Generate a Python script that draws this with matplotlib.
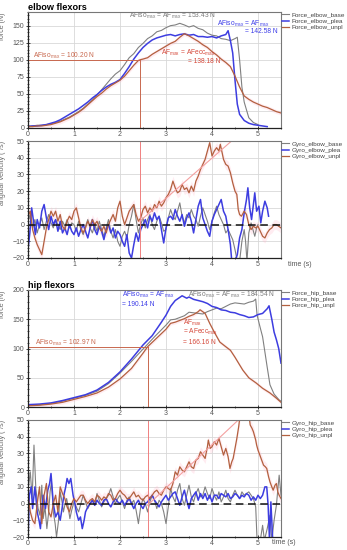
import matplotlib
matplotlib.use("Agg")
import matplotlib.pyplot as plt
from matplotlib.ticker import MultipleLocator
import numpy as np

plt.rcParams['font.family'] = ['Liberation Sans', 'DejaVu Sans']
plt.rcParams['mathtext.fontset'] = 'custom'
plt.rcParams['mathtext.rm'] = 'Liberation Sans'

# ---------------- data ----------------
# elbow force (N)
t_elb_base = [0,0.1,0.2,0.3,0.4,0.5,0.6,0.7,0.8,0.9,1.0,1.1,1.2,1.3,1.4,1.5,1.6,1.7,1.8,1.9,2.0,2.1,2.2,2.3,2.4,2.5,2.6,2.7,2.8,2.9,3.0,3.1,3.2,3.3,3.4,3.5,3.6,3.7,3.8,3.9,4.0,4.1,4.2,4.3,4.4,4.5,4.55,4.6,4.65,4.7,4.8,4.9,5.0]
f_elb_base = [3,3,4,4,5,6,8,10,13,16,20,24,29,35,41,48,56,64,72,79,84,93,103,109,118,124,131,135,141,143,147,150,151,153.4,151,148,150,146,144,139,136,135,131,130,128,131,133,100,60,38,15,8,5]
t_elb_plea = [0,0.1,0.2,0.3,0.4,0.5,0.6,0.7,0.8,0.9,1.0,1.1,1.2,1.3,1.4,1.5,1.6,1.7,1.8,1.9,2.0,2.1,2.2,2.3,2.4,2.5,2.6,2.7,2.8,2.9,3.0,3.1,3.2,3.3,3.4,3.5,3.6,3.7,3.8,3.9,4.0,4.1,4.2,4.3,4.35,4.4,4.45,4.5,4.55,4.6,4.7,4.8,4.9,5.0,5.1,5.2]
f_elb_plea = [2,3,3,4,5,7,9,12,16,20,24,28,33,38,44,49,55,60,64,67,71,80,90,101,110,118,124,129,132,134,136,137,135,137,138,136,137,134,134,133,134,132,135,137,142.6,128,110,70,35,20,11,7,5,4,3,2]
t_elb_unpl = [0,0.1,0.2,0.3,0.4,0.5,0.6,0.7,0.8,0.9,1.0,1.1,1.2,1.3,1.4,1.5,1.6,1.7,1.8,1.9,2.0,2.1,2.2,2.3,2.4,2.45,2.5,2.6,2.7,2.8,2.9,3.0,3.1,3.2,3.3,3.4,3.5,3.6,3.7,3.8,3.9,4.0,4.1,4.2,4.3,4.4,4.5,4.6,4.7,4.8,4.9,5.0,5.1,5.2,5.3,5.4,5.5]
f_elb_unpl = [2,2,3,3,4,5,7,9,12,15,19,23,28,34,40,46,51,57,62,66,70,76,84,92,99,100.2,101,103,108,112,116,120,124,127,133,138.2,135,131,127,122,118,112,107,101,96,90,76,60,47,42,38,35,32,30,27,24,22]

# hip force (N)
t_hip_base = [0,0.25,0.5,0.75,1.0,1.25,1.5,1.75,2.0,2.25,2.5,2.75,3.0,3.1,3.2,3.3,3.4,3.5,3.6,3.7,3.8,3.9,4.0,4.1,4.2,4.3,4.4,4.5,4.6,4.7,4.8,4.9,4.95,4.98,5.05,5.1,5.2,5.26,5.35,5.46,5.5]
f_hip_base = [3,4,6,10,15,20,27,40,58,78,99,120,140,149,150,153,156,162,161,160,159,163,166,169,168,172,176,178,177,176,179,181,184.5,157,135,120,68,38,22,12,10]
t_hip_plea = [0,0.25,0.5,0.75,1.0,1.25,1.5,1.75,2.0,2.25,2.5,2.7,2.9,3.0,3.1,3.2,3.35,3.45,3.5,3.6,3.7,3.8,3.9,4.0,4.1,4.2,4.3,4.4,4.5,4.6,4.7,4.8,4.9,5.0,5.1,5.2,5.24,5.3,5.35,5.4,5.45,5.5]
f_hip_plea = [4,5,7,11,16,21,29,42,60,82,106,122,145,157,172,182,190.1,186,188,184,182,180,177,172,170,166,165,162,161,158,156,153,154,158,160,168,173,150,128,115,100,75]
t_hip_unpl = [0,0.25,0.5,0.75,1.0,1.25,1.5,1.75,2.0,2.25,2.5,2.6,2.8,3.0,3.1,3.2,3.3,3.4,3.5,3.6,3.7,3.74,3.85,3.95,4.05,4.17,4.3,4.4,4.5,4.6,4.67,4.8,4.96,5.1,5.26,5.4,5.5]
f_hip_unpl = [2,3,5,8,13,18,24,34,48,66,92,103,118,133,143,145,148,151,155,158,163,166.2,160,143,128,111,103,97,85,72,63,50,41,32,24,15,8]

# elbow gyro (deg/s)
t_eg_base = [0,0.05,0.1,0.15,0.2,0.25,0.3,0.35,0.4,0.45,0.5,0.55,0.6,0.65,0.7,0.75,0.8,0.85,0.9,0.95,1.0,1.05,1.1,1.15,1.2,1.25,1.3,1.35,1.4,1.45,1.5,1.55,1.6,1.65,1.7,1.75,1.8,1.85,1.9,1.95,2.0,2.05,2.1,2.15,2.2,2.25,2.3,2.35,2.4,2.45,2.5,2.55,2.6,2.65,2.7,2.75,2.8,2.85,2.9,2.95,3.0,3.05,3.1,3.15,3.2,3.25,3.3,3.35,3.4,3.45,3.5,3.55,3.6,3.65,3.7,3.75,3.8,3.85,3.9,3.95,4.0,4.05,4.1,4.15,4.2,4.25,4.3,4.35,4.4,4.45,4.5,4.55,4.6,4.65,4.7,4.73,4.76,4.8,4.85,4.9,4.93,4.97,5.0]
v_eg_base = [2,6,-2,3,-5,0,4,-3,2,6,1,-2,3,0,-3,2,-1,3,-2,1,0,-4,2,-3,-6,-1,3,-2,-5,0,-4,2,-3,-7,-2,3,-4,-8,-3,-10,-13,-7,-4,-8,0,5,12,3,-5,0,4,-2,3,6,0,-3,2,5,1,-4,-3,4,9,5,3,8,13,5,1,6,4,9,5,3,-1,5,10,6,2,-3,2,7,11,6,3,0,-5,-3,-6,-9,-15,-22,-22,-10,-3,-10,-22,-5,1,-4,-7,-2,0]
t_eg_plea = [0,0.04,0.08,0.12,0.16,0.2,0.25,0.3,0.35,0.4,0.45,0.5,0.55,0.6,0.65,0.7,0.75,0.8,0.85,0.9,0.95,1.0,1.05,1.1,1.15,1.2,1.25,1.3,1.35,1.4,1.45,1.5,1.55,1.6,1.65,1.7,1.75,1.8,1.85,1.9,1.95,2.0,2.05,2.1,2.15,2.2,2.25,2.3,2.35,2.4,2.45,2.5,2.55,2.6,2.65,2.7,2.75,2.8,2.85,2.9,2.95,3.0,3.05,3.1,3.15,3.2,3.25,3.3,3.35,3.4,3.45,3.5,3.55,3.6,3.65,3.7,3.75,3.8,3.85,3.9,3.95,4.0,4.05,4.1,4.15,4.2,4.25,4.3,4.35,4.4,4.43,4.5,4.55,4.6,4.65,4.7,4.75,4.78,4.82,4.86,4.9,4.93,4.97,5.02,5.06,5.1,5.15,5.2,5.23]
v_eg_plea = [-15,-5,10,2,-6,3,-2,8,12,4,-3,5,0,3,-4,2,-5,-2,-6,0,-4,-6,-2,-7,-3,0,-4,-8,-2,3,-3,-6,-1,-4,-9,-3,0,-5,-2,-8,-4,-6,-10,-13,-6,-17,-20,-12,-5,-10,-3,0,3,-2,5,2,7,3,5,-3,-11,-2,4,5,3,9,5,2,6,-1,4,7,2,-5,3,11,15,4,0,-4,-7,2,6,9,12,15,8,5,-3,-12,-22,-22,-18,-8,-3,7,15,22,10,3,12,19,8,11,1,8,14,10,5]
t_eg_unpl = [0,0.05,0.1,0.15,0.2,0.25,0.3,0.35,0.4,0.45,0.5,0.55,0.6,0.65,0.7,0.75,0.8,0.85,0.9,0.95,1.0,1.05,1.1,1.15,1.2,1.25,1.3,1.35,1.4,1.45,1.5,1.55,1.6,1.65,1.7,1.75,1.8,1.85,1.9,1.95,2.0,2.05,2.1,2.15,2.2,2.25,2.3,2.35,2.4,2.45,2.5,2.55,2.6,2.65,2.7,2.75,2.8,2.85,2.9,2.95,3.0,3.05,3.1,3.15,3.2,3.25,3.3,3.35,3.4,3.45,3.5,3.55,3.6,3.65,3.7,3.75,3.8,3.85,3.9,3.95,4.0,4.05,4.1,4.15,4.18,4.22,4.25,4.3,4.35,4.4,4.45,4.5,4.54,4.57,4.6,4.64,4.7,4.75,4.8,4.85,4.9,4.95,5.0,5.05,5.1,5.15,5.2,5.25,5.3,5.35,5.4,5.45,5.5]
v_eg_unpl = [5,8,-3,-8,-12,-15,-18,-10,-2,3,8,5,8,2,6,-1,-3,2,5,3,8,10,4,-2,-5,-2,2,-1,3,0,2,-2,-4,-1,-5,0,3,6,2,10,14,5,0,4,8,10,12,6,2,4,9,11,7,10,8,12,10,14,11,13,16,18,21,26,22,19,20,24,21,22,19,23,20,26,29,33,36,39,44,49,41,44,46,44,48,43,39,36,35,31,25,20,18,9,6,5,8,6,0,-3,-1,-2,-1,-4,-7,-8,-5,-3,-2,0,0,-1,-2]

# hip gyro (deg/s)
t_hg_base = [0,0.05,0.09,0.13,0.17,0.22,0.26,0.3,0.33,0.37,0.41,0.45,0.48,0.51,0.55,0.59,0.62,0.66,0.7,0.74,0.77,0.8,0.84,0.88,0.91,0.95,1.0,1.05,1.1,1.15,1.2,1.25,1.3,1.35,1.4,1.45,1.5,1.55,1.6,1.65,1.7,1.75,1.8,1.85,1.9,1.95,2.0,2.05,2.1,2.15,2.2,2.25,2.3,2.35,2.4,2.45,2.5,2.55,2.6,2.65,2.7,2.75,2.8,2.85,2.9,2.95,3.0,3.05,3.1,3.15,3.2,3.25,3.3,3.35,3.4,3.45,3.5,3.55,3.6,3.65,3.7,3.75,3.8,3.85,3.9,3.95,4.0,4.05,4.1,4.15,4.2,4.25,4.3,4.35,4.4,4.45,4.5,4.55,4.6,4.65,4.7,4.75,4.8,4.85,4.9,4.95,4.98,5.05,5.1,5.14,5.2,5.26,5.3,5.35,5.4,5.46,5.5]
v_hg_base = [8,19,3,35,9,-3,-7,11,-9,-2,-15,-5,7,13,-5,-12,-20,-11,7,1,-5,-1,3,-3,-9,-4,1,-2,-5,0,5,1,-3,0,2,-1,6,2,-2,1,3,5,9,4,0,3,5,1,-3,2,4,0,2,-4,-12,-2,3,0,-5,1,5,2,-3,2,0,-5,-12,-2,9,4,1,8,12,3,-1,5,11,4,1,6,9,4,5,10,6,3,9,5,2,7,1,4,8,3,1,5,8,5,3,7,5,6,7,5,3,-2,-22,-22,-13,-22,-15,-7,-22,-10,-1,17,5]
t_hg_plea = [0,0.03,0.07,0.1,0.15,0.2,0.24,0.27,0.3,0.33,0.38,0.43,0.47,0.5,0.55,0.6,0.65,0.7,0.74,0.78,0.82,0.85,0.89,0.93,0.98,1.02,1.05,1.1,1.14,1.18,1.22,1.25,1.3,1.35,1.4,1.45,1.5,1.55,1.6,1.65,1.7,1.75,1.8,1.85,1.9,1.95,2.0,2.05,2.1,2.15,2.2,2.25,2.3,2.35,2.4,2.45,2.5,2.55,2.6,2.65,2.7,2.75,2.8,2.85,2.9,2.95,3.0,3.05,3.1,3.15,3.2,3.25,3.3,3.35,3.4,3.45,3.5,3.55,3.6,3.65,3.7,3.75,3.8,3.85,3.9,3.95,4.0,4.05,4.1,4.15,4.2,4.25,4.3,4.35,4.4,4.45,4.5,4.55,4.6,4.65,4.7,4.75,4.8,4.85,4.9,4.95,5.0,5.05,5.1,5.15,5.19,5.22,5.25,5.28,5.32,5.35]
v_hg_plea = [-22,5,10,-3,10,-5,-10,-15,-5,5,-3,8,12,18,0,-8,-5,-10,-3,5,10,15,12,15,5,0,-5,-10,-8,-15,-10,-5,-2,0,2,-1,2,0,-1,2,3,0,-2,1,3,1,0,2,-1,1,3,0,-3,0,2,-1,-3,0,1,3,5,2,0,-2,1,3,5,2,4,6,7,3,-1,4,8,2,-3,3,5,7,2,6,3,6,2,5,1,5,5,3,6,5,4,6,3,4,6,5,3,5,4,6,5,2,4,2,5,3,5,10,10,-1,-22,1,-22,-22]
t_hg_unpl = [0,0.05,0.1,0.15,0.2,0.25,0.3,0.35,0.4,0.45,0.5,0.55,0.6,0.65,0.7,0.75,0.8,0.85,0.9,0.95,1.0,1.05,1.1,1.15,1.2,1.25,1.3,1.35,1.4,1.45,1.5,1.55,1.6,1.65,1.7,1.75,1.8,1.85,1.9,1.95,2.0,2.05,2.1,2.15,2.2,2.25,2.3,2.35,2.4,2.45,2.5,2.55,2.6,2.65,2.7,2.75,2.8,2.85,2.9,2.95,3.0,3.05,3.1,3.15,3.2,3.25,3.3,3.35,3.4,3.45,3.5,3.55,3.6,3.65,3.7,3.75,3.8,3.85,3.9,3.92,3.96,4.0,4.05,4.1,4.15,4.2,4.25,4.3,4.35,4.39,4.43,4.46,4.5,4.54,4.58,4.62,4.7,4.78,4.83,4.87,4.9,4.95,4.97,5.0,5.04,5.08,5.12,5.16,5.19,5.23,5.26,5.3,5.33,5.37,5.4,5.43,5.46,5.5]
v_hg_unpl = [5,-5,-10,-12,0,10,-12,5,12,-5,-8,0,5,-5,10,6,3,-2,-5,0,3,1,3,5,5,2,0,2,3,1,5,4,2,4,3,6,5,2,3,6,8,6,5,3,3,5,7,4,5,3,2,4,5,3,5,7,8,6,5,8,10,9,8,12,19,17,22,20,19,22,25,22,21,26,27,31,29,27,34,38,33,34,37,35,39,34,29,33,28,21,25,27,33,39,46,55,60,58,47,45,43,38,35,32,29,26,23,22,21,16,13,10,8,11,12,7,5,3]

series_names = ['base', 'plea', 'unpl']
colors = {'base': '#808080', 'plea': '#3d3de0', 'unpl': '#b3603f'}
widths = {'base': 0.8, 'plea': 1.1, 'unpl': 0.9}
ref_color = '#c8684e'
pink = '#ffb6c8'

W, H = 347, 550
def pos(top, bottom, left=28, right=281):
    return [left / W, 1 - bottom / H, (right - left) / W, (bottom - top) / H]

fig = plt.figure(figsize=(W / 100, H / 100), dpi=100)
ax1 = fig.add_axes(pos(12, 128))
ax2 = fig.add_axes(pos(141, 258))
ax3 = fig.add_axes(pos(290, 407))
ax4 = fig.add_axes(pos(420, 537))

def style(ax, ylim, ymajor, yminor, ylabel):
    ax.set_xlim(0, 5.5)
    ax.set_ylim(*ylim)
    ax.xaxis.set_major_locator(MultipleLocator(1))
    ax.xaxis.set_minor_locator(MultipleLocator(0.5))
    ax.yaxis.set_major_locator(MultipleLocator(ymajor))
    ax.yaxis.set_minor_locator(MultipleLocator(yminor))
    ax.grid(True, which='major', color='#d8d8d8', lw=0.6)
    ax.set_axisbelow(True)
    ax.tick_params(which='both', direction='inout', labelsize=5, colors='#222',
                   labelcolor='#555', pad=1)
    ax.tick_params(which='major', length=3, width=0.6)
    ax.tick_params(which='minor', length=1.8, width=0.5)
    for s in ['top', 'right']:
        ax.spines[s].set_color('#777')
        ax.spines[s].set_linewidth(0.8)
    for s in ['left', 'bottom']:
        ax.spines[s].set_color('#222')
        ax.spines[s].set_linewidth(0.9)
    ax.set_ylabel(ylabel, fontsize=5, color='#666', loc='top')
    ax.yaxis.set_label_coords(-0.085, 1.0)

force_sets = [
    (ax1, 'elbow', [(t_elb_base, f_elb_base), (t_elb_plea, f_elb_plea), (t_elb_unpl, f_elb_unpl)]),
    (ax3, 'hip', [(t_hip_base, f_hip_base), (t_hip_plea, f_hip_plea), (t_hip_unpl, f_hip_unpl)]),
]
gyro_sets = [
    (ax2, 'elbow', [(t_eg_base, v_eg_base), (t_eg_plea, v_eg_plea), (t_eg_unpl, v_eg_unpl)]),
    (ax4, 'hip', [(t_hg_base, v_hg_base), (t_hg_plea, v_hg_plea), (t_hg_unpl, v_hg_unpl)]),
]

style(ax1, (0, 170), 25, 5, 'force (N)')
style(ax3, (0, 200), 50, 10, 'force (N)')
style(ax2, (-20, 50), 10, 2, 'angular velocity (°/s)')
style(ax4, (-20, 50), 10, 2, 'angular velocity (°/s)')

leg_kw = dict(loc='upper left', bbox_to_anchor=(1.0, 1.01), frameon=False, fontsize=4.6,
              handlelength=1.1, handletextpad=0.35, labelspacing=0.12, borderaxespad=0.0,
              borderpad=0.2, labelcolor='#444')

for ax, part, data in force_sets:
    tt, vv = data[2]
    ax.fill_between(tt, np.array(vv) - 3, np.array(vv) + 3, color=pink, alpha=0.25, lw=0)
    for name, (tt, vv) in zip(series_names, data):
        ax.plot(tt, vv, color=colors[name], lw=widths[name], label=f'Force_{part}_{name}')
    ax.legend(**leg_kw)

for ax, part, data in gyro_sets:
    tt, vv = data[2]
    ax.fill_between(tt, np.array(vv) - 3, np.array(vv) + 3, color=pink, alpha=0.25, lw=0)
    for name, (tt, vv) in zip(series_names, data):
        ax.plot(tt, vv, color=colors[name], lw=widths[name], label=f'Gyro_{part}_{name}')
    ax.axhline(0, color='#111', lw=1.1, ls=(0, (5, 3)))
    ax.legend(**leg_kw)

# reference lines for AFiso of unplanned trial
afiso_elbow = (2.43, 100.20)
afiso_hip = (2.60, 102.97)
ax1.plot([0, afiso_elbow[0]], [afiso_elbow[1]] * 2, color=ref_color, lw=0.7)
ax1.plot([afiso_elbow[0]] * 2, [0, afiso_elbow[1]], color=ref_color, lw=0.7)
ax2.axvline(afiso_elbow[0], color='#f08080', lw=0.7)
ax3.plot([0, afiso_hip[0]], [afiso_hip[1]] * 2, color=ref_color, lw=0.7)
ax3.plot([afiso_hip[0]] * 2, [0, afiso_hip[1]], color=ref_color, lw=0.7)
ax4.axvline(afiso_hip[0], color='#f08080', lw=0.7)

# trend lines (light pink)
trend_elbow_t = [2.43, 4.55]
trend_elbow_v = [2, 53]
trend_hip_t = [2.6, 4.65]
trend_hip_v = [-1, 52]
ax2.plot(trend_elbow_t, trend_elbow_v, color='#f4a0a0', lw=0.8)
ax4.plot(trend_hip_t, trend_hip_v, color='#f4a0a0', lw=0.8)

sub = r'$_{\mathregular{max}}$'
afs = 4.8
blue_t = '#3d3de8'
red_t = '#d5483a'
gray_t = '#7a7a7a'
# elbow annotations
ax1.text(0.1, 105, 'AFiso' + sub + ' = 100.20 N', color=ref_color, fontsize=afs, va='center')
ax1.text(2.2, 164, 'AFiso' + sub + ' = AF' + sub + ' = 153.43 N', color=gray_t, fontsize=afs, va='center')
ax1.text(4.1, 153, 'AFiso' + sub + ' = AF' + sub, color=blue_t, fontsize=afs, va='center')
ax1.text(5.42, 141, '= 142.58 N', color=blue_t, fontsize=afs, va='center', ha='right')
ax1.text(2.9, 110, 'AF' + sub + ' = AFecc' + sub, color=red_t, fontsize=afs, va='center')
ax1.text(3.48, 97, '= 138.18 N', color=red_t, fontsize=afs, va='center')
# hip annotations
ax3.text(0.15, 110, 'AFiso' + sub + ' = 102.97 N', color=ref_color, fontsize=afs, va='center')
ax3.text(2.04, 192, 'AFiso' + sub + ' = AF' + sub, color=blue_t, fontsize=afs, va='center')
ax3.text(2.04, 176, '= 190.14 N', color=blue_t, fontsize=afs, va='center')
ax3.text(3.48, 192, 'AFiso' + sub + ' = AF' + sub + ' = 184.54 N', color=gray_t, fontsize=afs, va='center')
ax3.text(3.37, 144, 'AF' + sub, color=red_t, fontsize=afs, va='center')
ax3.text(3.37, 128, '= AFecc' + sub, color=red_t, fontsize=afs, va='center')
ax3.text(3.37, 111, '= 166.16 N', color=red_t, fontsize=afs, va='center')

# titles and axis labels
fig.text(28 / W, 1 - 3 / H, 'elbow flexors', fontsize=6.6, fontweight='bold', va='top', ha='left')
fig.text(28 / W, 1 - 281 / H, 'hip flexors', fontsize=6.6, fontweight='bold', va='top', ha='left')
fig.text(288 / W, 1 - 265 / H, 'time (s)', fontsize=5, color='#555', va='center', ha='left')
fig.text(272 / W, 1 - 542 / H, 'time (s)', fontsize=5, color='#555', va='center', ha='left')

fig.savefig('out.png', dpi=100)
